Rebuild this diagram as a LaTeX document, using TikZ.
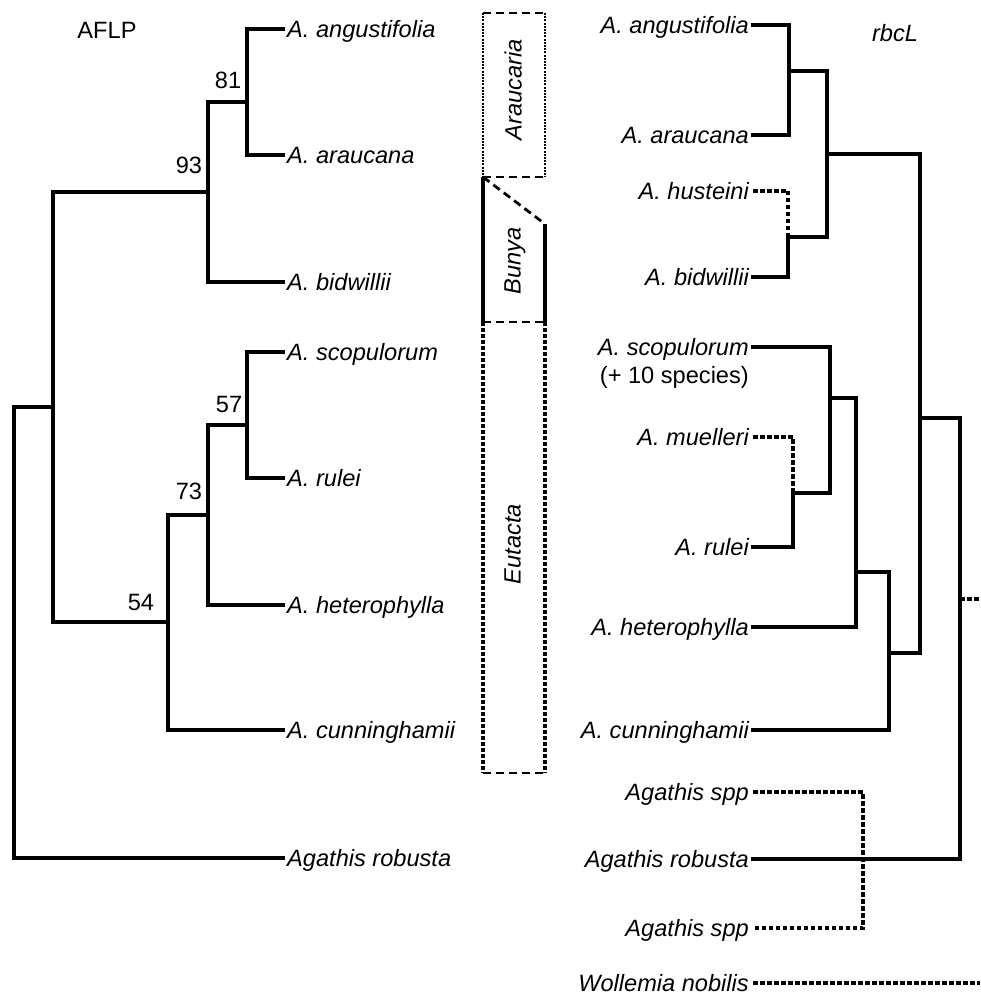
\documentclass[tikz,border=0pt]{standalone}
\usepackage{fontspec}
\setmainfont{Liberation Sans}
\begin{document}
\begin{tikzpicture}[x=1pt,y=-1pt,
  lbl/.style={inner xsep=4pt, inner ysep=0pt, text height=17pt, text depth=0pt, font=\fontsize{23.6}{28}\selectfont},
  sp/.style={lbl, font=\fontsize{23.6}{28}\selectfont\itshape},
  lleaf/.style={sp, anchor=west},
  rleaf/.style={sp, anchor=east},
  boot/.style={lbl, inner xsep=0pt},
  br/.style={line width=4pt, line cap=rect, line join=miter},
  dotbr/.style={line width=4pt, dash pattern=on 4.5pt off 2.5pt},
  boxdash/.style={line width=2.8pt, dash pattern=on 8pt off 5pt},
  boxfine/.style={line width=1.6pt, dash pattern=on 2pt off 1.2pt},
  boxdot/.style={line width=3.4pt, dash pattern=on 4pt off 2pt},
  boxsolid/.style={line width=4pt},
  clade/.style={sp, rotate=90, inner xsep=0pt}
]
\useasboundingbox (0,0) rectangle (981,1008);

% ---------------- AFLP tree ----------------
\node[lbl] (aflp) at (107,30) {AFLP};

\node[lleaf] (lang) at (283,29)  {A. angustifolia};
\node[lleaf] (lara) at (283,155) {A. araucana};
\node[lleaf] (lbid) at (283,282) {A. bidwillii};
\node[lleaf] (lsco) at (283,352) {A. scopulorum};
\node[lleaf] (lrul) at (283,478) {A. rulei};
\node[lleaf] (lhet) at (283,605) {A. heterophylla};
\node[lleaf] (lcun) at (283,730) {A. cunninghamii};
\node[lleaf] (lrob) at (283,858) {Agathis robusta};

\coordinate (L81) at (247,102);
\coordinate (L93) at (208,192);
\coordinate (L57) at (247,425);
\coordinate (L73) at (208,515);
\coordinate (L54) at (168,622);
\coordinate (Lin) at (53,407);
\coordinate (Lroot) at (14,700);

\draw[br] (lang.west) -| (L81) |- (lara.west);
\draw[br] (L81) -| (L93) |- (lbid.west);
\draw[br] (lsco.west) -| (L57) |- (lrul.west);
\draw[br] (L57) -| (L73) |- (lhet.west);
\draw[br] (L73) -| (L54) |- (lcun.west);
\draw[br] (L93) -| (Lin) |- (L54);
\draw[br] (Lin) -| (Lroot) |- (lrob.west);

\node[boot] (b81) at (228,80)  {81};
\node[boot] (b93) at (189,165) {93};
\node[boot] (b57) at (229,404) {57};
\node[boot] (b73) at (189,491) {73};
\node[boot] (b54) at (141,602) {54};

% ---------------- clade boxes ----------------
% Araucaria
\draw[boxdash] (483,13) -- (545,13);
\draw[boxfine] (483,13) -- (483,177);
\draw[boxfine] (545,13) -- (545,177);
\draw[boxdash] (483,177) -- (545,177);
% Bunya
\draw[boxsolid] (483,177) -- (483,322);
\draw[boxdash] (483,177) -- (545,224);
\draw[boxsolid] (545,224) -- (545,322);
\draw[boxdash] (483,322) -- (545,322);
% Eutacta
\draw[boxdot] (483,322) -- (483,773);
\draw[boxdot] (545,322) -- (545,773);
\draw[boxdash] (483,773) -- (545,773);

\node[clade] (cAra) at (513,90)  {Araucaria};
\node[clade] (cBun) at (512,261) {Bunya};
\node[clade] (cEut) at (512,544) {Eutacta};

% ---------------- rbcL tree ----------------
\node[sp] (rbcl) at (895,33) {rbcL};

\node[rleaf] (rang)  at (753,25)  {A. angustifolia};
\node[rleaf] (rara)  at (753,135) {A. araucana};
\node[rleaf] (rhus)  at (753,191) {A. husteini};
\node[rleaf] (rbid)  at (753,277) {A. bidwillii};
\node[rleaf] (rsco)  at (753,347) {A. scopulorum};
\node[lbl, anchor=east] (rsco2) at (753,375) {(+ 10 species)};
\node[rleaf] (rmue)  at (753,437) {A. muelleri};
\node[rleaf] (rrul)  at (753,547) {A. rulei};
\node[rleaf] (rhet)  at (753,627) {A. heterophylla};
\node[rleaf] (rcun)  at (753,730) {A. cunninghamii};
\node[rleaf] (rags1) at (753,792) {Agathis spp};
\node[rleaf] (rrob)  at (753,859) {Agathis robusta};
\node[rleaf] (rags2) at (753,928) {Agathis spp};
\node[rleaf] (rwol)  at (753,983) {Wollemia nobilis};

\coordinate (R1) at (789,71);
\coordinate (R2) at (788,237);
\coordinate (R3) at (827,154);
\coordinate (R4) at (793,493);
\coordinate (R5) at (830,398);
\coordinate (R6) at (856,572);
\coordinate (R7) at (889,653);
\coordinate (R8) at (920,418);
\coordinate (R9) at (960,599);
\coordinate (R10) at (863,860);
\coordinate (stub) at (980,599);
\coordinate (wend) at (980,983);

\draw[br] (rang.east) -| (R1) |- (rara.east);
\draw[dotbr] (rhus.east) -| (R2);
\draw[br] (rbid.east) -| (R2);
\draw[br] (R1) -| (R3) |- (R2);
\draw[dotbr] (rmue.east) -| (R4);
\draw[br] (rrul.east) -| (R4);
\draw[br] (rsco.east) -| (R5) |- (R4);
\draw[br] (R5) -| (R6) |- (rhet.east);
\draw[br] (R6) -| (R7) |- (rcun.east);
\draw[br] (R3) -| (R8) |- (R7);
\draw[br] (R8) -| (R9) |- (rrob.east);
\draw[dotbr] (R9) -- (stub);
\draw[dotbr] (rags1.east) -| (R10) |- (rags2.east);
\draw[dotbr] (rwol.east) -- (wend);
\end{tikzpicture}
\end{document}
